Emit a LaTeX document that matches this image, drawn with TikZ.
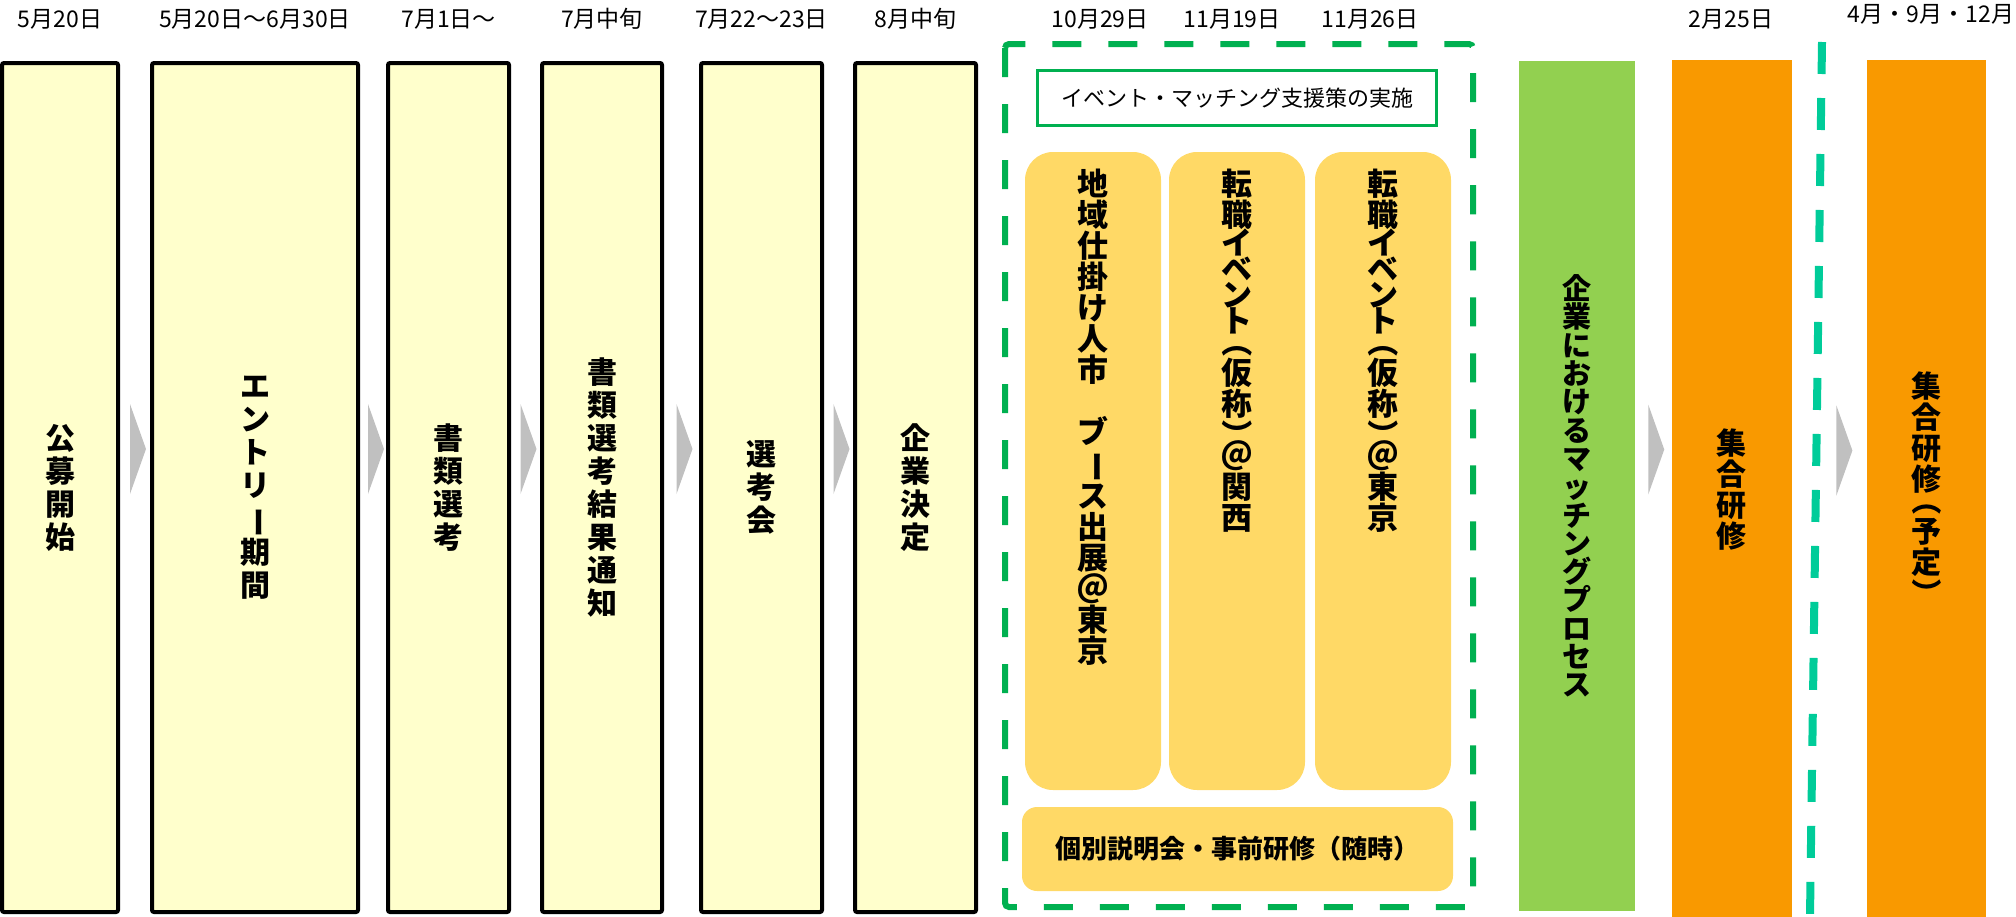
\documentclass[tikz,border=0pt]{standalone}
\usepackage{fontspec}
\setmainfont{Noto Sans CJK JP}
\usetikzlibrary{calc,positioning}

\definecolor{paleyellow}{HTML}{FFFFCC}
\definecolor{eventyellow}{HTML}{FFD966}
\definecolor{procgreen}{HTML}{92D050}
\definecolor{trainorange}{HTML}{F99900}
\definecolor{framegreen}{HTML}{00B050}
\definecolor{sepgreen}{HTML}{00CC99}
\definecolor{chevgray}{HTML}{C0C0C0}

% glyphs turned for vertical setting
\newcommand{\tate}[1]{\rotatebox[origin=c]{-90}{#1}}
\newcommand{\chouon}{\tate{ー}}

\tikzset{
  stagebox/.style={draw=black,line width=4pt,fill=paleyellow,rounded corners=2pt,
    minimum height=849,inner sep=0pt,align=center,
    font=\bfseries\fontsize{30}{33}\selectfont},
  datelbl/.style={inner sep=0pt,font=\fontsize{23}{25}\selectfont},
  eventbox/.style={fill=eventyellow,rounded corners=28pt,minimum width=136,minimum height=638},
  eventtext/.style={inner sep=0pt,align=center,font=\bfseries\fontsize{31}{31}\selectfont},
  titlebox/.style={draw=framegreen,line width=3pt,fill=white,minimum width=399,minimum height=55,
    inner sep=0pt,font=\fontsize{22}{24}\selectfont},
  briefbox/.style={fill=eventyellow,rounded corners=15pt,minimum width=431,minimum height=84,
    inner sep=0pt,font=\bfseries\fontsize{26}{28}\selectfont},
  procbox/.style={fill=procgreen,minimum width=116,minimum height=850,inner sep=0pt,align=center,
    font=\bfseries\fontsize{29}{28.3}\selectfont},
  trainbox/.style={fill=trainorange,minimum width=120,minimum height=860,inner sep=0pt,align=center,
    font=\bfseries\fontsize{30}{31}\selectfont},
  evtframe/.style={draw=framegreen,line width=6pt,dash pattern=on 29pt off 27pt,rounded corners=4pt},
  sepline/.style={draw=sepgreen,line width=8pt,dash pattern=on 32pt off 24pt},
  chevron/.style={fill=chevgray}
}

\begin{document}
\begin{tikzpicture}[x=1pt,y=-1pt]
  \useasboundingbox (0,0) rectangle (2016,916);

  % selection steps
  \foreach \n/\x/\w/\d/\t in {
      b1/60/116/5月20日/{公\\募\\開\\始},
      b2/255/206/5月20日～6月30日/{エ\\ン\\ト\\リ\\\chouon\\期\\間},
      b3/448.5/121/7月1日～/{書\\類\\選\\考},
      b4/602/120/7月中旬/{書\\類\\選\\考\\結\\果\\通\\知},
      b5/761.5/121/7月22～23日/{選\\考\\会},
      b6/915.5/121/8月中旬/{企\\業\\決\\定}} {
    \node[stagebox,minimum width=\w] (\n) at (\x,487.5) {\t};
    \node[datelbl] (d\n) at (\x,19) {\d};
  }

  % events
  \draw[evtframe] (1005,44) rectangle (1473,907);
  \node[titlebox] (ttl) at (1237,98) {イベント・マッチング支援策の実施};
  \foreach \n/\x/\dx/\d/\t in {
      r1/1093/1100/10月29日/{地\\域\\仕\\掛\\け\\人\\市\\　\\ブ\\\chouon\\ス\\出\\展\\＠\\東\\京},
      r2/1237/1232/11月19日/{転\\職\\[-3pt]イ\\[-5pt]ベ\\[-5pt]ン\\[-5pt]ト\\[-10pt]\tate{（}\\仮\\称\\\tate{）}\\[-10pt]＠\\関\\西},
      r3/1383/1370/11月26日/{転\\職\\[-3pt]イ\\[-5pt]ベ\\[-5pt]ン\\[-5pt]ト\\[-10pt]\tate{（}\\仮\\称\\\tate{）}\\[-10pt]＠\\東\\京}} {
    \node[eventbox] (\n) at (\x,471) {};
    \node[eventtext,below=17pt of \n.north] (t\n) {\t};
    \node[datelbl] (d\n) at (\dx,19) {\d};
  }
  \node[briefbox] (brief) at (1237.5,849) {個別説明会・事前研修（随時）};

  % matching and training
  \node[procbox] (gp) at (1577,486)
    {企\\業\\に\\お\\け\\る\\マ\\ッ\\チ\\ン\\グ\\プ\\ロ\\セ\\ス};
  \node[trainbox] (o1) at (1731.5,490) {集\\合\\研\\修};
  \node[datelbl] (do1) at (1731,19) {2月25日};
  \draw[sepline] (1822,42) -- (1810,916);
  \coordinate (sep) at (1816,488);
  \node[trainbox,minimum width=119] (o2) at (1926.5,490)
    {集\\合\\研\\修\\[-10pt]\tate{（}\\予\\定\\\tate{）}};
  \node[datelbl] (do2) at (1931,14) {4月・9月・12月};

  \foreach \a/\b in {b1.east/b2.west,b2.east/b3.west,b3.east/b4.west,b4.east/b5.west,
      b5.east/b6.west,gp.east/o1.west,sep/o2.west}
    \fill[chevron] ($(\a)!.5!(\b)$) ++(-5,-83.5) -- ++(16,45) -- ++(-16,45) -- cycle;
\end{tikzpicture}
\end{document}
